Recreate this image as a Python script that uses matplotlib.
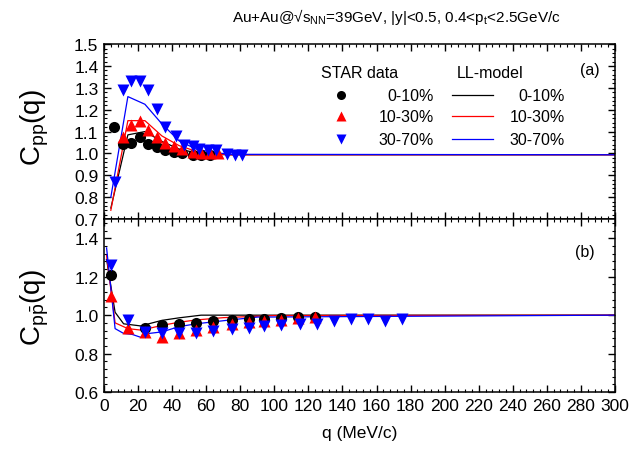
import matplotlib
matplotlib.use('Agg')
import matplotlib.pyplot as plt
from matplotlib.ticker import MultipleLocator
import numpy as np

plt.rcParams['font.family'] = ['Liberation Sans', 'DejaVu Sans']
plt.rcParams['mathtext.fontset'] = 'custom'
plt.rcParams['mathtext.rm'] = 'Liberation Sans'
plt.rcParams['mathtext.it'] = 'Liberation Sans'

# ---- panel (a): C_pp(q) ----
q_a_0010 = [6, 11, 16, 21, 26, 31, 36, 41, 46, 52, 57, 62]
c_a_0010 = [1.12, 1.045, 1.05, 1.075, 1.045, 1.03, 1.015, 1.005, 1.0, 0.995, 0.993, 0.993]
q_a_1030 = [11, 16, 21, 26, 31, 36, 41, 46, 52, 57, 62, 67]
c_a_1030 = [1.075, 1.13, 1.15, 1.105, 1.075, 1.05, 1.035, 1.02, 1.007, 1.0, 1.0, 1.0]
q_a_3070 = [6.5, 11, 16, 21, 26, 31, 36, 42, 47, 52, 56, 61, 66, 72, 77, 81]
c_a_3070 = [0.87, 1.29, 1.33, 1.33, 1.29, 1.205, 1.12, 1.08, 1.04, 1.035, 1.02, 1.015,
            1.015, 0.998, 0.993, 0.993]

q_a_model = [4, 14, 24, 34, 44, 54, 64, 74, 300]
m_a_0010 = [0.75, 1.085, 1.10, 1.055, 1.02, 1.003, 0.996, 0.994, 0.994]
m_a_1030 = [0.74, 1.15, 1.15, 1.08, 1.036, 1.01, 0.998, 0.994, 0.994]
m_a_3070 = [0.80, 1.26, 1.225, 1.135, 1.058, 1.02, 1.005, 0.996, 0.994]

# ---- panel (b): C_ppbar(q) ----
q_b_0010 = [4, 24, 34, 44, 54, 64, 75, 85, 94, 104, 114, 124]
c_b_0010 = [1.207, 0.935, 0.95, 0.955, 0.958, 0.969, 0.975, 0.979, 0.981, 0.986, 0.993, 0.993]
q_b_1030 = [4, 14, 24, 34, 44, 54, 64, 75, 85, 94, 104, 114, 124]
c_b_1030 = [1.10, 0.934, 0.913, 0.888, 0.905, 0.925, 0.94, 0.955, 0.963, 0.968, 0.976,
            0.986, 0.989]
q_b_3070 = [4, 14, 24, 34, 44, 54, 64, 75, 85, 94, 104, 115, 125, 135, 145, 155, 165, 175]
c_b_3070 = [1.26, 0.975, 0.913, 0.906, 0.908, 0.905, 0.919, 0.93, 0.935, 0.942, 0.947,
            0.953, 0.956, 0.968, 0.981, 0.981, 0.968, 0.981]

q_b_m0010 = [1.5, 6.5, 11.5, 21.5, 34, 44, 57, 300]
m_b_0010 = [1.29, 1.015, 0.955, 0.944, 0.973, 0.986, 1.0, 1.0]
q_b_m1030 = [1.5, 6.5, 14, 22, 34, 44, 54, 70, 100, 300]
m_b_1030 = [1.31, 0.96, 0.93, 0.922, 0.947, 0.963, 0.975, 0.987, 0.998, 1.0]
q_b_m3070 = [1.5, 6.5, 11.5, 16.5, 21.5, 26.5, 34, 44, 54, 64, 74, 90, 300]
m_b_3070 = [1.35, 0.93, 0.905, 0.9, 0.885, 0.905, 0.913, 0.94, 0.955, 0.965, 0.975, 0.99, 1.0]

cols = ['black', 'red', 'blue']
marks = ['o', '^', 'v']
cent = ['0-10%', '10-30%', '30-70%']

fig = plt.figure(figsize=(6.32, 4.56), dpi=100)
ax1 = fig.add_axes([0.1646, 0.5175, 0.8085, 0.3835])
ax2 = fig.add_axes([0.1646, 0.138, 0.8085, 0.3795])

data_a = [(q_a_0010, c_a_0010), (q_a_1030, c_a_1030), (q_a_3070, c_a_3070)]
model_a = [m_a_0010, m_a_1030, m_a_3070]
for i in range(3):
    ax1.plot(q_a_model, model_a[i], '-', color=cols[i], lw=0.9)
for i in range(3):
    ax1.plot(data_a[i][0], data_a[i][1], marks[i], color=cols[i], ms=8, mec='none')

data_b = [(q_b_0010, c_b_0010), (q_b_1030, c_b_1030), (q_b_3070, c_b_3070)]
model_b = [(q_b_m0010, m_b_0010), (q_b_m1030, m_b_1030), (q_b_m3070, m_b_3070)]
for i in range(3):
    ax2.plot(model_b[i][0], model_b[i][1], '-', color=cols[i], lw=0.9)
for i in range(3):
    ax2.plot(data_b[i][0], data_b[i][1], marks[i], color=cols[i], ms=8, mec='none')

for ax in (ax1, ax2):
    ax.set_xlim(0, 300)
    ax.xaxis.set_major_locator(MultipleLocator(20))
    ax.xaxis.set_minor_locator(MultipleLocator(4))
    ax.tick_params(which='both', direction='in', top=True, right=True, labelsize=12.5)
    ax.tick_params(which='major', length=5, width=1, pad=4)
    ax.tick_params(which='minor', length=2.5, width=0.8)
    for s in ax.spines.values():
        s.set_linewidth(1.1)

ax1.set_ylim(0.7, 1.5)
ax1.yaxis.set_major_locator(MultipleLocator(0.1))
ax1.yaxis.set_minor_locator(MultipleLocator(0.02))
ax1.set_xticklabels([])
ax1.yaxis.set_major_formatter(plt.FormatStrFormatter('%.1f'))

ax2.set_ylim(0.6, 1.5)
ax2.yaxis.set_major_locator(MultipleLocator(0.2))
ax2.yaxis.set_minor_locator(MultipleLocator(0.04))
ax2.set_yticks([0.6, 0.8, 1.0, 1.2, 1.4])
ax2.yaxis.set_major_formatter(plt.FormatStrFormatter('%.1f'))
ax2.set_xlabel('q (MeV/c)', fontsize=12.5, labelpad=9)

fig.text(0.055, 0.72, r'C$_{\mathrm{pp}}$(q)', rotation=90, fontsize=20, ha='center', va='center')
fig.text(0.055, 0.325, r'C$_{\mathrm{p\bar{p}}}$(q)', rotation=90, fontsize=20, ha='center', va='center')

fig.text(0.627, 0.962, 'Au+Au@\u221as$_{\\mathrm{NN}}$=39GeV, |y|<0.5, 0.4<p$_{\\mathrm{t}}$<2.5GeV/c',
         fontsize=11, ha='center', va='center')

# legend drawn by hand, Origin style
ax1.text(0.501, 0.84, 'STAR data', transform=ax1.transAxes, fontsize=11.5, ha='center', va='center')
ax1.text(0.755, 0.84, 'LL-model', transform=ax1.transAxes, fontsize=11.5, ha='center', va='center')
ax1.text(0.951, 0.857, '(a)', transform=ax1.transAxes, fontsize=11.5, ha='center', va='center')
ax2.text(0.941, 0.815, '(b)', transform=ax2.transAxes, fontsize=11.5, ha='center', va='center')
rows = [0.709, 0.589, 0.457]
for i in range(3):
    ax1.plot([0.464], [rows[i]], marks[i], color=cols[i], ms=6.5, mec='none', transform=ax1.transAxes)
    ax1.text(0.646, rows[i], cent[i], transform=ax1.transAxes, fontsize=11.5, ha='right', va='center')
    ax1.plot([0.681, 0.761], [rows[i], rows[i]], '-', color=cols[i], lw=0.9, transform=ax1.transAxes)
    ax1.text(0.902, rows[i], cent[i], transform=ax1.transAxes, fontsize=11.5, ha='right', va='center')

fig.savefig('out.png', dpi=100)
